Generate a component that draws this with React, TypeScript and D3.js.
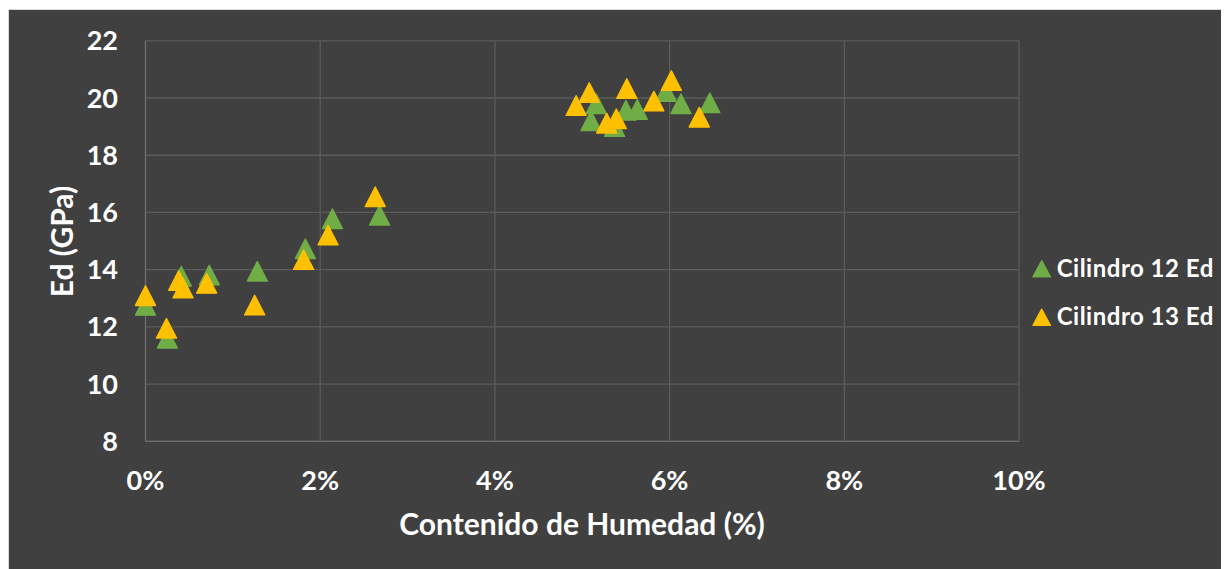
import React from "react";
import * as d3 from "d3";

const series12X = [0, 0.25, 0.41, 0.73, 1.28, 1.83, 2.14, 2.68, 5.10, 5.16, 5.37, 5.50, 5.63, 5.96, 6.13, 6.46];
const series12Y = [12.75, 11.6, 13.77, 13.81, 13.94, 14.73, 15.78, 15.9, 19.2, 19.8, 19.0, 19.57, 19.6, 20.23, 19.8, 19.83];
const series13X = [0, 0.24, 0.38, 0.43, 0.70, 1.25, 1.81, 2.09, 2.63, 4.93, 5.08, 5.28, 5.39, 5.51, 5.82, 6.02, 6.34];
const series13Y = [13.09, 11.95, 13.62, 13.36, 13.52, 12.76, 14.35, 15.21, 16.55, 19.74, 20.19, 19.12, 19.27, 20.33, 19.89, 20.61, 19.33];
const seriesNames = ["Cilindro 12 Ed", "Cilindro 13 Ed"];
const seriesColors = ["#70AD47", "#FFC000"];
const xTicks = [0, 0.02, 0.04, 0.06, 0.08, 0.1];
const yTicks = [8, 10, 12, 14, 16, 18, 20, 22];
const xTitle = "Contenido de Humedad (%)";
const yTitle = "Ed (GPa)";

const W = 1221;
const H = 561;
const FONT = "Lato, 'Open Sans', sans-serif";

function tri(cx: number, cy: number, w: number, h: number) {
  return `M${cx},${cy - h / 2}L${cx + w / 2},${cy + h / 2}L${cx - w / 2},${cy + h / 2}Z`;
}

export default function App() {
  const x = d3.scaleLinear().domain([0, 0.1]).range([137.5, 1011]);
  const y = d3.scaleLinear().domain([8, 22]).range([433.3, 32.8]);
  const fmt = d3.format(".0%");
  const data = [
    series12X.map((v, i) => ({ x: v / 100, y: series12Y[i] })),
    series13X.map((v, i) => ({ x: v / 100, y: series13Y[i] })),
  ];
  const grid = "#5b5b5b";
  return (
    <svg width={W} height={H} style={{ display: "block" }}>
      <rect x={0} y={0} width={W} height={H} fill="#ffffff" />
      <rect x={0} y={1} width={W} height={H - 1} fill="#d9d9d9" />
      <rect x={1} y={2} width={W - 1} height={H - 2} fill="#404040" />
      {yTicks.map((t) => (
        <line key={"gy" + t} x1={x(0)} x2={x(0.1)} y1={y(t)} y2={y(t)} stroke={grid} strokeWidth={1.3} />
      ))}
      {xTicks.map((t) => (
        <line key={"gx" + t} x1={x(t)} x2={x(t)} y1={y(8)} y2={y(22)} stroke={t === 0 ? "#6e6e6e" : grid} strokeWidth={1.3} />
      ))}
      <line x1={x(0)} x2={x(0.1)} y1={y(8)} y2={y(8)} stroke="#6e6e6e" strokeWidth={1.3} />
      {yTicks.map((t) => (
        <text key={"ty" + t} x={110} y={y(t) + 9.5} textAnchor="end" fill="#ffffff" fontFamily={FONT} fontWeight="bold" fontSize={27}>
          {t}
        </text>
      ))}
      {xTicks.map((t) => (
        <text key={"tx" + t} x={x(t)} y={481.5} textAnchor="middle" fill="#ffffff" fontFamily={FONT} fontWeight="bold" fontSize={27}>
          {fmt(t)}
        </text>
      ))}
      <text x={574} y={527} textAnchor="middle" fill="#ffffff" fontFamily={FONT} fontWeight="bold" fontSize={30}>
        {xTitle}
      </text>
      <text transform={`translate(64.5,233.5) rotate(-90)`} textAnchor="middle" fill="#ffffff" fontFamily={FONT} fontWeight="bold" fontSize={30}>
        {yTitle}
      </text>
      {data.map((s, si) => (
        <g key={"s" + si}>
          {s.map((p, i) => (
            <path key={i} d={tri(x(p.x), y(p.y), 20, 19.5)} fill={seriesColors[si]} stroke={seriesColors[si]} strokeWidth={1.4} strokeLinejoin="round" />
          ))}
        </g>
      ))}
      {seriesNames.map((n, i) => (
        <g key={"lg" + i}>
          <path d={tri(1033.7, 260.7 + i * 48.5, 17.5, 16.3)} fill={seriesColors[i]} stroke={seriesColors[i]} strokeWidth={1.2} strokeLinejoin="round" />
          <text x={1048.7} y={268.5 + i * 48.5} fill="#ffffff" fontFamily={FONT} fontWeight="bold" fontSize={24} letterSpacing={0.5}>
            {n}
          </text>
        </g>
      ))}
    </svg>
  );
}
